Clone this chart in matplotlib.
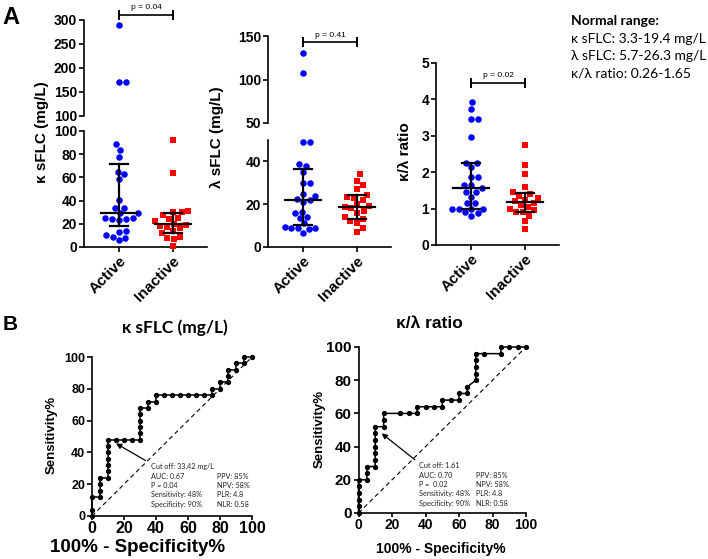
import numpy as np
import matplotlib
matplotlib.use('Agg')
import matplotlib.pyplot as plt

plt.rcParams['font.family'] = ['Liberation Sans', 'DejaVu Sans']
plt.rcParams['font.weight'] = 'bold'
CAL = ['Lato', 'Open Sans', 'DejaVu Sans']

# ---- values ----
groups = ['Active', 'Inactive']

kappa_active = [289, 170, 170, 89, 84, 78, 65, 63, 59, 40.5, 34, 33.5, 29, 29, 25,
                25, 24, 24, 23, 14, 13, 10, 9, 8, 5.7]
kappa_inactive = [92, 64, 31, 30, 30, 28, 25, 24, 22, 20, 19, 18, 17, 16, 14, 12, 9, 8, 7, 1]
lambda_active = [130, 108, 49, 49, 39, 38, 35, 30, 30, 25, 24, 22.5, 22, 21, 16.5,
                 16, 14, 13.5, 11, 9.5, 9, 9, 9, 8.5, 6.5]
lambda_inactive = [34, 31, 29, 27, 24.5, 23.5, 23, 22, 20, 19, 18.5, 18, 17, 16, 14,
                   13, 12, 11, 9, 7]
ratio_active = [3.92, 3.73, 3.46, 3.46, 2.98, 2.26, 2.24, 2.13, 1.88, 1.88, 1.65, 1.65,
                1.56, 1.46, 1.46, 1.33, 1.16, 1.16, 1.0, 1.0, 1.0, 0.98, 0.9, 0.87, 0.8]
ratio_inactive = [2.75, 2.2, 1.95, 1.6, 1.45, 1.4, 1.35, 1.3, 1.25, 1.2, 1.15, 1.1, 1.05,
                  1.0, 0.95, 0.9, 0.9, 0.8, 0.65, 0.45]
p_labels = ['p = 0.04', 'p = 0.41', 'p = 0.02']

normal_range = ['κ sFLC: 3.3-19.4 mg/L', 'λ sFLC: 5.7-26.3 mg/L', 'κ/λ ratio: 0.26-1.65']

roc_kappa_fpr = [0, 0, 0, 5, 5, 5, 5, 10, 10, 10, 10, 10, 10, 10, 15, 20, 25, 30, 30, 30,
                 30, 30, 30, 35, 35, 40, 40, 45, 50, 55, 60, 65, 70, 75, 75, 80, 80, 85,
                 85, 85, 90, 90, 95, 95, 100]
roc_kappa_sens = [0, 4, 12, 12, 16, 20, 24, 24, 28, 32, 36, 40, 44, 48, 48, 48, 48, 48,
                  52, 56, 60, 64, 68, 68, 72, 72, 76, 76, 76, 76, 76, 76, 76, 76, 80, 80,
                  84, 84, 88, 92, 92, 96, 96, 100, 100]
roc_ratio_fpr = [0, 0, 0, 0, 0, 0, 5, 5, 5, 10, 10, 10, 10, 10, 10, 10, 15, 15, 15, 25,
                 30, 35, 35, 40, 45, 50, 50, 55, 60, 60, 65, 65, 70, 70, 70, 70, 70, 75,
                 85, 85, 90, 95, 100]
roc_ratio_sens = [0, 4, 8, 12, 16, 20, 20, 24, 28, 28, 32, 36, 40, 44, 48, 52, 52, 56,
                  60, 60, 60, 60, 64, 64, 64, 64, 68, 68, 68, 72, 72, 76, 80, 84, 88, 92,
                  96, 96, 96, 100, 100, 100, 100]
stats_right = ['PPV: 85%', 'NPV: 58%', 'PLR: 4.8', 'NLR: 0.58']
stats_kappa = ['Cut off: 33.42 mg/L', 'AUC: 0.67', 'P = 0.04', 'Sensitivity: 48%',
               'Specificity: 90%']
stats_ratio = ['Cut off: 1.61', 'AUC: 0.70', 'P =  0.02', 'Sensitivity: 48%',
               'Specificity: 90%']

W, H = 708, 559
fig = plt.figure(figsize=(W / 100, H / 100), dpi=100)


def fx(px):
    return px / W


def fy(py):
    return 1 - py / H


def box(l, t, r, b):
    return fig.add_axes([l / W, 1 - b / H, (r - l) / W, (b - t) / H])


def style(ax, bottom=True, size=10):
    for s in ['top', 'right']:
        ax.spines[s].set_visible(False)
    ax.spines['left'].set_linewidth(1.2)
    ax.spines['bottom'].set_linewidth(1.2)
    if not bottom:
        ax.spines['bottom'].set_visible(False)
        ax.set_xticks([])
    ax.tick_params(direction='out', length=3.5, width=1.2, labelsize=size, pad=1.5)


def swarm(ax, xc, vals, d=7.0):
    # simple beeswarm in pixel space
    vals = np.asarray(vals, float)
    pts = ax.transData.transform(np.column_stack([np.full(len(vals), xc), vals]))
    ys = pts[:, 1]
    xs = np.zeros(len(vals))
    placed = []
    for i in np.argsort(ys):
        y = ys[i]
        cands = [0.0]
        for px, py in placed:
            dy = abs(py - y)
            if dy < d:
                dx = np.sqrt(d * d - dy * dy)
                cands += [px + dx, px - dx]
        cands.sort(key=abs)
        for c in cands:
            if all((c - px) ** 2 + (y - py) ** 2 >= d * d - 1e-6 for px, py in placed):
                xs[i] = c
                break
        placed.append((xs[i], y))
    return ax.transData.inverted().transform(np.column_stack([pts[:, 0] + xs, ys]))


# ---- panel A ----
panels = [
    dict(vals=(kappa_active, kappa_inactive), ylabel='κ sFLC (mg/L)', l=84, r=207,
         segs=[(19.5, 115.5, 100, 300, [100, 150, 200, 250, 300]),
               (131, 247, 0, 100, [0, 20, 40, 60, 80, 100])],
         lab=(42, 132), pbar=310),
    dict(vals=(lambda_active, lambda_inactive), ylabel='λ sFLC (mg/L)', l=268, r=391,
         segs=[(36, 123, 50, 150, [50, 100, 150]),
               (140, 247, 0, 50, [0, 20, 40])],
         lab=(217, 137), pbar=143),
    dict(vals=(ratio_active, ratio_inactive), ylabel='κ/λ ratio', l=436, r=559,
         segs=[(63, 245, 0, 5, [0, 1, 2, 3, 4, 5])],
         lab=(405, 152), pbar=4.46),
]
colors = ['#0000FF', '#FF0000']
markers = ['o', 's']
sizes = [22, 20]

for k, p in enumerate(panels):
    xlim = (1 - 35 / 54, 1 + 88 / 54)
    axes = []
    for j, (t, b, lo, hi, ticks) in enumerate(p['segs']):
        ax = box(p['l'], t, p['r'], b)
        ax.set_xlim(*xlim)
        ax.set_ylim(lo, hi)
        ax.set_yticks(ticks)
        style(ax, bottom=(j == len(p['segs']) - 1))
        axes.append((ax, lo, hi))
    low = axes[-1][0]
    low.set_xticks([1, 2])
    low.set_xticklabels(groups, rotation=45, ha='right', rotation_mode='anchor',
                        fontsize=11)
    for g, vals in enumerate(p['vals']):
        vals = np.asarray(vals, float)
        xc = g + 1
        for ax, lo, hi in axes:
            sel = vals[(vals > lo) & (vals <= hi)] if lo > 0 else vals[vals <= hi]
            if len(sel) == 0:
                continue
            xy = swarm(ax, xc, sel)
            ax.scatter(xy[:, 0], xy[:, 1], s=sizes[g], c=colors[g], marker=markers[g],
                       linewidths=0, clip_on=False, zorder=3)
        q1, med, q3 = np.percentile(vals, [25, 50, 75], method='weibull')
        low.plot([xc - 0.34, xc + 0.34], [med, med], color='k', lw=1.6, zorder=4)
        low.plot([xc, xc], [q1, q3], color='k', lw=1.6, zorder=4)
        for q in (q1, q3):
            low.plot([xc - 0.17, xc + 0.17], [q, q], color='k', lw=1.6, zorder=4)
    top = axes[0][0]
    top.plot([1, 2], [p['pbar'], p['pbar']], color='k', lw=1.2, marker='|', ms=7,
             mew=1.4, clip_on=False)
    top.annotate(p_labels[k], xy=(1.5, p['pbar']), xytext=(0, 2.5),
                 textcoords='offset points', ha='center', va='bottom', fontsize=6,
                 fontweight='normal', annotation_clip=False)
    fig.text(fx(p['lab'][0]), fy(p['lab'][1]), p['ylabel'], rotation=90, ha='center',
             va='center', fontsize=11)

fig.text(fx(11), fy(17), 'A', fontsize=17, ha='center', va='center')
fig.text(fx(571), fy(21), 'Normal range:', family=CAL, fontsize=10, fontweight='bold',
         ha='left', va='center')
for i, line in enumerate(normal_range):
    fig.text(fx(571), fy(39 + 17 * i), line, family=CAL, fontsize=10,
             fontweight='normal', ha='left', va='center')

# ---- panel B ----
fig.text(fx(10), fy(324), 'B', fontsize=15, ha='center', va='center')

rocs = [
    dict(fpr=roc_kappa_fpr, sens=roc_kappa_sens, box=(92, 357, 252, 516),
         title='κ sFLC (mg/L)', tpos=(175, 328), tfam=CAL, tsize=12.5,
         xlab=(138, 547), xsize=13.5, ylab=(52, 435), xt=11.5, yt=9,
         arrow=((35, 34), (13.5, 46.5)), stats=stats_kappa,
         sx=(150.7, 216.7), sy=466.7),
    dict(fpr=roc_ratio_fpr, sens=roc_ratio_sens, box=(358.5, 347, 526, 513),
         title='κ/λ ratio', tpos=(429, 323), tfam=['Liberation Sans', 'DejaVu Sans'],
         tsize=12.5, xlab=(441, 549), xsize=10, ylab=(320, 429), xt=10, yt=11,
         arrow=((35, 31), (12.5, 49)), stats=stats_ratio,
         sx=(419, 475.7), sy=465.7),
]
for rc in rocs:
    ax = box(*rc['box'])
    style(ax)
    ax.set_xlim(0, 100)
    ax.set_ylim(0, 100)
    ax.set_xticks(range(0, 101, 20))
    ax.set_yticks(range(0, 101, 20))
    ax.tick_params(axis='x', labelsize=rc['xt'], length=3, pad=0.5)
    ax.tick_params(axis='y', labelsize=rc['yt'])
    ax.plot([0, 100], [0, 100], color='k', lw=0.8, ls=(0, (4, 3)))
    ax.plot(rc['fpr'], rc['sens'], color='k', lw=1.1, marker='o', ms=2.8,
            clip_on=False, zorder=3)
    ax.annotate('', xy=rc['arrow'][1], xytext=rc['arrow'][0],
                arrowprops=dict(arrowstyle='-|>', color='k', lw=0.9, mutation_scale=8))
    fig.text(fx(rc['tpos'][0]), fy(rc['tpos'][1]), rc['title'], family=rc['tfam'],
             fontsize=rc['tsize'], ha='center', va='center')
    fig.text(fx(rc['xlab'][0]), fy(rc['xlab'][1]), '100% - Specificity%',
             fontsize=rc['xsize'], ha='center', va='center')
    fig.text(fx(rc['ylab'][0]), fy(rc['ylab'][1]), 'Sensitivity%', fontsize=9.5,
             rotation=90, ha='center', va='center')
    for i, line in enumerate(rc['stats']):
        fig.text(fx(rc['sx'][0]), fy(rc['sy'] + 9.4 * i), line, family=CAL, fontsize=5.2,
                 fontweight='normal', color='#222222', ha='left', va='center')
    for i, line in enumerate(stats_right):
        fig.text(fx(rc['sx'][1]), fy(rc['sy'] + 9.4 * (i + 1)), line, family=CAL,
                 fontsize=5.2, fontweight='normal', color='#222222', ha='left',
                 va='center')

fig.savefig('out.png', dpi=100)
